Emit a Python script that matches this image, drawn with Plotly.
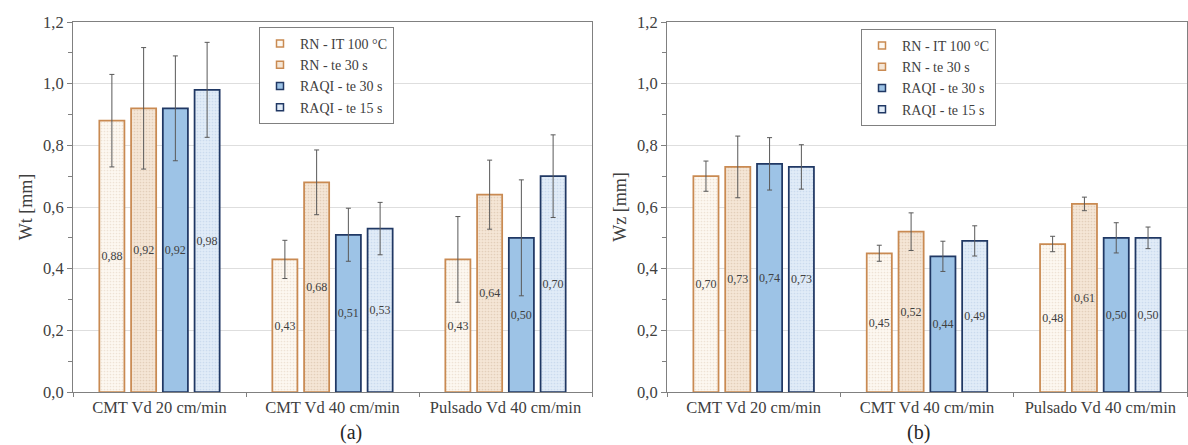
import plotly.graph_objects as go

# Welding process conditions (x categories)
categories = ["CMT Vd 20 cm/min", "CMT Vd 40 cm/min", "Pulsado Vd 40 cm/min"]
series_names = ["RN - IT 100 °C", "RN - te 30 s", "RAQI - te 30 s", "RAQI - te 15 s"]

# Panel (a): Wt [mm] means and standard deviations
wt_rn_it100 = [0.88, 0.43, 0.43]
wt_rn_it100_err = [0.150, 0.062, 0.139]
wt_rn_te30 = [0.92, 0.68, 0.64]
wt_rn_te30_err = [0.197, 0.105, 0.112]
wt_raqi_te30 = [0.92, 0.51, 0.50]
wt_raqi_te30_err = [0.170, 0.086, 0.188]
wt_raqi_te15 = [0.98, 0.53, 0.70]
wt_raqi_te15_err = [0.154, 0.085, 0.134]

# Panel (b): Wz [mm] means and standard deviations
wz_rn_it100 = [0.70, 0.45, 0.48]
wz_rn_it100_err = [0.049, 0.026, 0.025]
wz_rn_te30 = [0.73, 0.52, 0.61]
wz_rn_te30_err = [0.100, 0.061, 0.022]
wz_raqi_te30 = [0.74, 0.44, 0.50]
wz_raqi_te30_err = [0.085, 0.049, 0.049]
wz_raqi_te15 = [0.73, 0.49, 0.50]
wz_raqi_te15_err = [0.072, 0.049, 0.035]

FONT = "Liberation Serif, Times New Roman, serif"
TXT = "#404040"
ORANGE_LINE = "#c98a52"
NAVY_LINE = "#203864"

styles = [
    dict(fill="#fdf8f1", line=ORANGE_LINE, fg="#eee3d5", pattern="."),
    dict(fill="#f5e6d6", line=ORANGE_LINE, fg="#e3cfba", pattern="."),
    dict(fill="#9dc3e6", line=NAVY_LINE, fg=None, pattern=""),
    dict(fill="#e1ecf8", line=NAVY_LINE, fg="#cbdbee", pattern="."),
]

panels = [
    dict(vals=[wt_rn_it100, wt_rn_te30, wt_raqi_te30, wt_raqi_te15],
         errs=[wt_rn_it100_err, wt_rn_te30_err, wt_raqi_te30_err, wt_raqi_te15_err],
         xa="x", ya="y", legend="legend"),
    dict(vals=[wz_rn_it100, wz_rn_te30, wz_raqi_te30, wz_raqi_te15],
         errs=[wz_rn_it100_err, wz_rn_te30_err, wz_raqi_te30_err, wz_raqi_te15_err],
         xa="x2", ya="y2", legend="legend2"),
]

fig = go.Figure()

for p in panels:
    for name, vals, errs, st in zip(series_names, p["vals"], p["errs"], styles):
        marker = dict(color=st["fill"], line=dict(color=st["line"], width=1.75))
        if st["pattern"]:
            marker["pattern"] = dict(shape=st["pattern"], bgcolor=st["fill"],
                                     fgcolor=st["fg"], size=3, solidity=0.25,
                                     fillmode="replace")
        fig.add_trace(go.Bar(
            x=categories, y=vals, name=name,
            xaxis=p["xa"], yaxis=p["ya"],
            marker=marker,
            error_y=dict(type="data", array=errs, visible=True,
                         color="#595959", thickness=1, width=2.5),
            texttemplate="%{y:.2f}", textposition="inside",
            insidetextanchor="middle", textangle=0, constraintext="none",
            textfont=dict(family=FONT, size=12, color=TXT),
            showlegend=False, hoverinfo="skip",
        ))
    # small square legend keys
    for name, st in zip(series_names, styles):
        fig.add_trace(go.Scatter(
            x=[None], y=[None], mode="markers", name=name,
            xaxis=p["xa"], yaxis=p["ya"], legend=p["legend"],
            marker=dict(symbol="square", size=7, color=st["fill"],
                        line=dict(color=st["line"], width=1.5)),
            showlegend=True, hoverinfo="skip",
        ))

W, H = 1188, 445
y_dom = [1 - 392 / H, 1 - 22 / H]

xaxis_common = dict(
    type="category", tickson="boundaries", ticks="outside", ticklen=4,
    tickcolor="#808080", showline=True, linecolor="#808080", linewidth=1,
    mirror=True, showgrid=False, automargin=False,
    tickfont=dict(family=FONT, size=16.5, color=TXT),
)
yaxis_common = dict(
    range=[0, 1.2], dtick=0.2, tickformat=".1f", ticks="outside", ticklen=5,
    tickcolor="#808080", showline=True, linecolor="#808080", linewidth=1,
    mirror=True, showgrid=True, gridcolor="#dedede", gridwidth=1,
    zeroline=False, domain=y_dom, automargin=False,
    minor=dict(dtick=0.1, ticks="outside", ticklen=4, tickcolor="#808080",
               showgrid=False),
    tickfont=dict(family=FONT, size=16.5, color=TXT),
)

legend_common = dict(
    font=dict(family=FONT, size=14, color=TXT), bgcolor="white",
    bordercolor="#808080", borderwidth=1, xanchor="left", yanchor="top",
    tracegroupgap=0, itemwidth=30,
)

fig.update_layout(
    width=W, height=H,
    margin=dict(l=0, r=0, t=0, b=0, pad=0, autoexpand=False),
    paper_bgcolor="white", plot_bgcolor="white",
    separators=",.",
    barmode="group", bargap=0.266, bargroupgap=0.21,
    xaxis=dict(domain=[73 / W, 592 / W], anchor="y", **xaxis_common),
    xaxis2=dict(domain=[667 / W, 1187 / W], anchor="y2", **xaxis_common),
    yaxis=dict(anchor="x",
               title=dict(text="Wt [mm]", standoff=5,
                          font=dict(family=FONT, size=18, color=TXT)),
               **yaxis_common),
    yaxis2=dict(anchor="x2",
                title=dict(text="Wz [mm]", standoff=5,
                           font=dict(family=FONT, size=18, color=TXT)),
                **yaxis_common),
    legend=dict(x=259 / W, y=1 - 27 / H, **legend_common),
    legend2=dict(x=861 / W, y=1 - 29 / H, **legend_common),
    annotations=[
        dict(text="(a)", x=338 / W, y=1 - 432 / H, xref="paper", yref="paper",
             yanchor="middle", showarrow=False,
             font=dict(family=FONT, size=20, color="#262626")),
        dict(text="(b)", x=932 / W, y=1 - 432 / H, xref="paper", yref="paper",
             yanchor="middle", showarrow=False,
             font=dict(family=FONT, size=20, color="#262626")),
    ],
)

fig.write_html("out.html")
